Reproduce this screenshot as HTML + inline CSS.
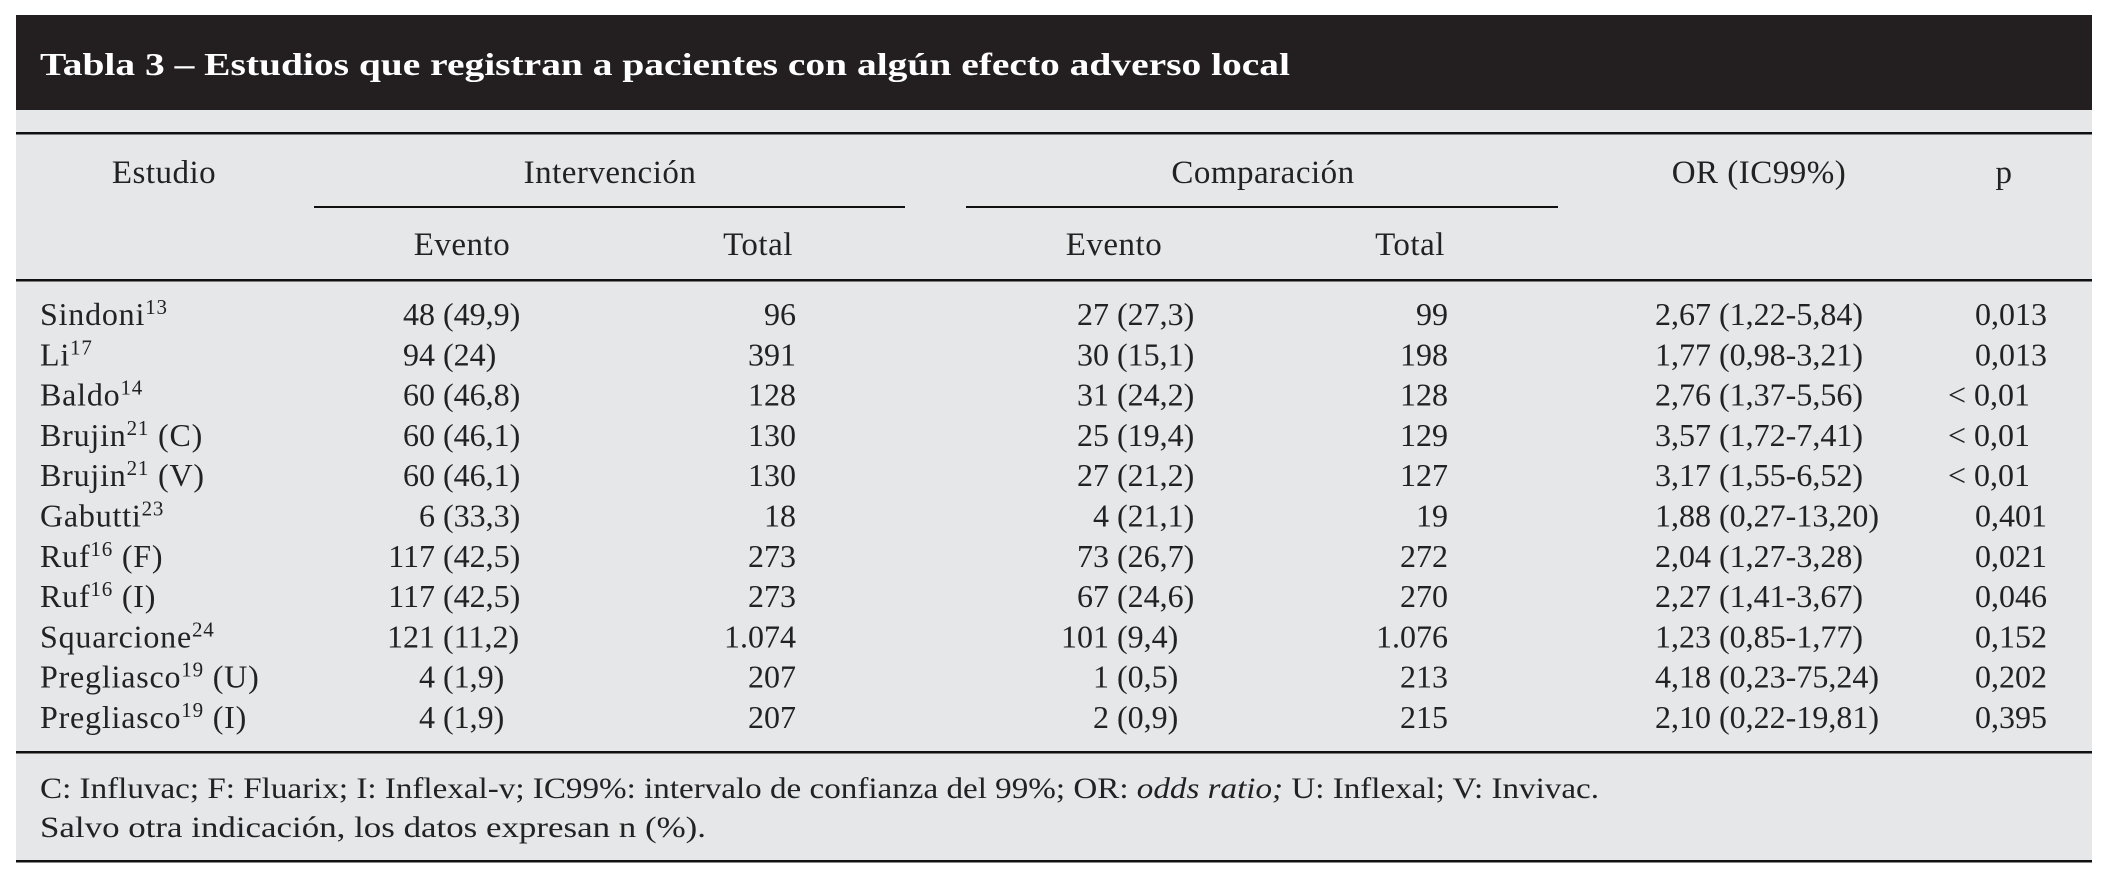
<!DOCTYPE html>
<html><head><meta charset="utf-8"><style>
html,body{margin:0;padding:0;background:#fff;}
svg{display:block;font-family:"Liberation Serif",serif;}
</style></head><body>
<svg id="t" width="2112" height="879" xmlns="http://www.w3.org/2000/svg">
<rect x="16" y="15" width="2076" height="95" fill="#231f20"/>
<text x="40" y="75" fill="#fff" font-weight="bold" font-size="32" textLength="1250" lengthAdjust="spacingAndGlyphs">Tabla 3 – Estudios que registran a pacientes con algún efecto adverso local</text>
<rect x="16" y="110" width="2076" height="751" fill="#e6e7e9"/>
<rect x="16" y="132" width="2076" height="2.5" fill="#111"/>
<rect x="314" y="206" width="591" height="2" fill="#111"/>
<rect x="966" y="206" width="592" height="2" fill="#111"/>
<rect x="16" y="279" width="2076" height="2.5" fill="#111"/>
<rect x="16" y="751" width="2076" height="2.5" fill="#111"/>
<rect x="16" y="860" width="2076" height="2.5" fill="#111"/>
<g font-size="33" fill="#222" text-anchor="middle" letter-spacing="0.5">
<text x="164" y="183">Estudio</text>
<text x="610" y="183">Intervención</text>
<text x="1263" y="183">Comparación</text>
<text x="1759" y="183">OR (IC99%)</text>
<text x="2004" y="183">p</text>
<text x="462" y="255">Evento</text>
<text x="758" y="255">Total</text>
<text x="1114" y="255">Evento</text>
<text x="1410" y="255">Total</text>
</g>
<g id="rows" font-size="32" fill="#222"></g>
<g font-size="30" fill="#222">
<text x="40" y="798" textLength="1559" lengthAdjust="spacingAndGlyphs">C: Influvac; F: Fluarix; I: Inflexal-v; IC99%: intervalo de confianza del 99%; OR: <tspan font-style="italic">odds ratio;</tspan> U: Inflexal; V: Invivac.</text>
<text x="40" y="837" textLength="666" lengthAdjust="spacingAndGlyphs">Salvo otra indicación, los datos expresan n (%).</text>
</g>
</svg>
<script>
const studies=["Sindoni","Li","Baldo","Brujin","Brujin","Gabutti","Ruf","Ruf","Squarcione","Pregliasco","Pregliasco"];
const refs=["13","17","14","21","21","23","16","16","24","19","19"];
const sfx=["","",""," (C)"," (V)",""," (F)"," (I)",""," (U)"," (I)"];
const intEv=["48","94","60","60","60","6","117","117","121","4","4"];
const intPct=["(49,9)","(24)","(46,8)","(46,1)","(46,1)","(33,3)","(42,5)","(42,5)","(11,2)","(1,9)","(1,9)"];
const intTot=["96","391","128","130","130","18","273","273","1.074","207","207"];
const cmpEv=["27","30","31","25","27","4","73","67","101","1","2"];
const cmpPct=["(27,3)","(15,1)","(24,2)","(19,4)","(21,2)","(21,1)","(26,7)","(24,6)","(9,4)","(0,5)","(0,9)"];
const cmpTot=["99","198","128","129","127","19","272","270","1.076","213","215"];
const orCI=["2,67 (1,22-5,84)","1,77 (0,98-3,21)","2,76 (1,37-5,56)","3,57 (1,72-7,41)","3,17 (1,55-6,52)","1,88 (0,27-13,20)","2,04 (1,27-3,28)","2,27 (1,41-3,67)","1,23 (0,85-1,77)","4,18 (0,23-75,24)","2,10 (0,22-19,81)"];
const pv=["0,013","0,013","< 0,01","< 0,01","< 0,01","0,401","0,021","0,046","0,152","0,202","0,395"];
const g=document.getElementById('rows');
const NS="http://www.w3.org/2000/svg";
function t(x,y,s,anchor,name){const e=document.createElementNS(NS,'text');e.setAttribute('x',x);e.setAttribute('y',y);if(anchor)e.setAttribute('text-anchor',anchor);e.textContent=s;


g.appendChild(e);return e;}
studies.forEach((s,i)=>{
 const y=325+i*40.3;
 const e=t(40,y,s,null,'study-name');
 e.setAttribute('letter-spacing','0.8');
 const sp=document.createElementNS(NS,'tspan');sp.setAttribute('font-size','21');sp.setAttribute('dy','-11');sp.textContent=refs[i];e.appendChild(sp);
 if(sfx[i]){const s2=document.createElementNS(NS,'tspan');s2.setAttribute('dy','11');s2.textContent=sfx[i];e.appendChild(s2);}
 t(435,y,intEv[i],'end','intervention-events');
 t(443,y,intPct[i],null,'intervention-percent');
 t(796,y,intTot[i],'end','intervention-total');
 t(1109,y,cmpEv[i],'end','comparison-events');
 t(1117,y,cmpPct[i],null,'comparison-percent');
 t(1448,y,cmpTot[i],'end','comparison-total');
 t(1655,y,orCI[i],null,'odds-ratio-ci');
 t(pv[i].startsWith('<')?2030:2047,y,pv[i],'end','p-value');
});
</script>
</body></html>
